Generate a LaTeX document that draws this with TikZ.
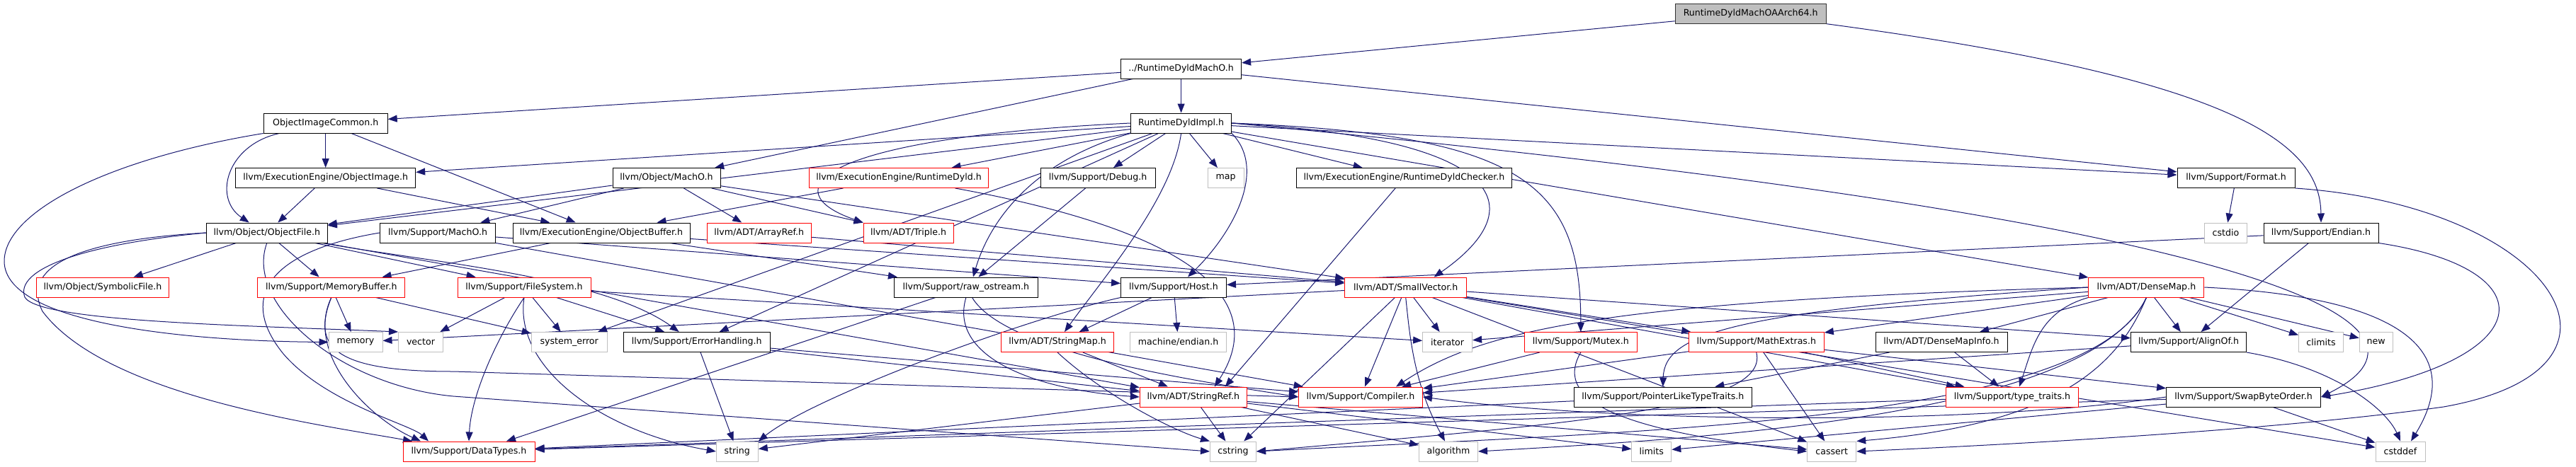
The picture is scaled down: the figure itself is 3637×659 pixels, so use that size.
\documentclass[tikz,border=0pt]{standalone}
\usepackage{fontspec}
\setmainfont{DejaVu Sans}
\usetikzlibrary{arrows.meta,backgrounds}
\definecolor{incblue}{HTML}{191970}
\definecolor{grey75}{HTML}{BFBFBF}
\begin{document}
\begin{tikzpicture}[x=1pt,y=-1pt,
	hdr/.style={draw=black,fill=white,line width=1pt,minimum height=28pt,inner xsep=3pt,inner ysep=0pt,font=\fontsize{12.6}{14}\selectfont},
	cuthdr/.style={hdr,draw=red},
	syshdr/.style={hdr,draw=grey75},
	roothdr/.style={hdr,fill=grey75,draw=black!80},
	inc/.style={draw=incblue,line width=1pt,-{Triangle[length=13pt,width=10pt]}}]
				%\draw[color=gray,step=50pt,help lines,opacity=0.3] (0,0) grid (3637,659); %help grid
				\useasboundingbox (0,0) rectangle (3637,659);
				% row 0 to 2
				\node[roothdr,minimum width=213pt] (root) at (2471.7,19.5) {RuntimeDyldMachOAArch64.h};
				\node[hdr,minimum width=170pt] (dyldmacho) at (1667.6,97) {../RuntimeDyldMachO.h};
				\node[hdr,minimum width=175pt] (imgcommon) at (459.7,174) {ObjectImageCommon.h};
				\node[hdr,minimum width=142pt] (dyldimpl) at (1667.6,174) {RuntimeDyldImpl.h};
				% row 3
				\node[hdr,minimum width=254pt] (objimage) at (459.7,251.5) {llvm/ExecutionEngine/ObjectImage.h};
				\node[hdr,minimum width=152pt] (objmacho) at (941,251.5) {llvm/Object/MachO.h};
				\node[cuthdr,minimum width=253pt] (rtdyld) at (1269,251.5) {llvm/ExecutionEngine/RuntimeDyld.h};
				\node[hdr,minimum width=162pt] (debug) at (1550,251.5) {llvm/Support/Debug.h};
				\node[syshdr,minimum width=51pt] (map) at (1730.7,251.5) {map};
				\node[hdr,minimum width=304pt] (checker) at (1982.5,251.5) {llvm/ExecutionEngine/RuntimeDyldChecker.h};
				\node[hdr,minimum width=166pt] (format) at (3157,251.5) {llvm/Support/Format.h};
				% row 4
				\node[hdr,minimum width=171pt] (objfile) at (376.8,329) {llvm/Object/ObjectFile.h};
				\node[hdr,minimum width=163pt] (supmacho) at (618,329) {llvm/Support/MachO.h};
				\node[hdr,minimum width=250pt] (objbuffer) at (849,329) {llvm/ExecutionEngine/ObjectBuffer.h};
				\node[cuthdr,minimum width=147pt] (arrayref) at (1071.7,329) {llvm/ADT/ArrayRef.h};
				\node[cuthdr,minimum width=127pt] (triple) at (1282.6,329) {llvm/ADT/Triple.h};
				\node[syshdr,minimum width=60pt] (cstdio) at (3142.5,329) {cstdio};
				\node[hdr,minimum width=162pt] (endian) at (3277,329) {llvm/Support/Endian.h};
				% row 5
				\node[cuthdr,minimum width=187pt] (symfile) at (145,406) {llvm/Object/SymbolicFile.h};
				\node[cuthdr,minimum width=208pt] (membuf) at (467.8,406) {llvm/Support/MemoryBuffer.h};
				\node[cuthdr,minimum width=188pt] (filesys) at (740,406) {llvm/Support/FileSystem.h};
				\node[hdr,minimum width=203pt] (rawos) at (1363.9,406) {llvm/Support/raw\_ostream.h};
				\node[hdr,minimum width=149pt] (host) at (1657,406) {llvm/Support/Host.h};
				\node[cuthdr,minimum width=172pt] (smallvec) at (1984.7,406) {llvm/ADT/SmallVector.h};
				\node[cuthdr,minimum width=163pt] (densemap) at (3030.4,406) {llvm/ADT/DenseMap.h};
				% row 6
				\node[syshdr,minimum width=76pt] (memory) at (502,483.5) {memory};
				\node[syshdr,minimum width=63pt] (vector) at (594,483.5) {vector};
				\node[syshdr,minimum width=107pt] (syserr) at (803.7,483.5) {system\_error};
				\node[hdr,minimum width=207pt] (errhand) at (983.7,483.5) {llvm/Support/ErrorHandling.h};
				\node[cuthdr,minimum width=159pt] (strmap) at (1493,483.5) {llvm/ADT/StringMap.h};
				\node[syshdr,minimum width=136pt] (mendian) at (1663.6,483.5) {machine/endian.h};
				\node[syshdr,minimum width=70pt] (iterator) at (2043.6,483.5) {iterator};
				\node[cuthdr,minimum width=159pt] (mutex) at (2231.8,483.5) {llvm/Support/Mutex.h};
				\node[cuthdr,minimum width=191pt] (mathext) at (2479.8,483.5) {llvm/Support/MathExtras.h};
				\node[hdr,minimum width=186pt] (dmapinfo) at (2741,483.5) {llvm/ADT/DenseMapInfo.h};
				\node[hdr,minimum width=163pt] (alignof) at (3090,483.5) {llvm/Support/AlignOf.h};
				\node[syshdr,minimum width=63pt] (climits) at (3277,483.5) {climits};
				\node[syshdr,minimum width=47pt] (newhdr) at (3354.7,483.5) {new};
				% row 7
				\node[cuthdr,minimum width=151pt] (strref) at (1684.8,561) {llvm/ADT/StringRef.h};
				\node[cuthdr,minimum width=175pt] (compiler) at (1921,561) {llvm/Support/Compiler.h};
				\node[hdr,minimum width=251pt] (ptrtraits) at (2347.8,561) {llvm/Support/PointerLikeTypeTraits.h};
				\node[cuthdr,minimum width=187pt] (typetraits) at (2841,561) {llvm/Support/type\_traits.h};
				\node[hdr,minimum width=218pt] (swapbo) at (3167.6,561) {llvm/Support/SwapByteOrder.h};
				% row 8
				\node[cuthdr,minimum width=186pt] (datatypes) at (662,638) {llvm/Support/DataTypes.h};
				\node[syshdr,minimum width=59pt] (string) at (1040.8,638) {string};
				\node[syshdr,minimum width=65pt] (cstring) at (1741,638) {cstring};
				\node[syshdr,minimum width=83pt] (algorithm) at (2045,638) {algorithm};
				\node[syshdr,minimum width=56pt] (limits) at (2331.8,638) {limits};
				\node[syshdr,minimum width=69pt] (cassert) at (2586.2,638) {cassert};
				\node[syshdr,minimum width=70pt] (cstddef) at (3389,638) {cstddef};

				\begin{scope}[on background layer]
				\draw[inc] (root) -- (dyldmacho);
				\draw[inc] (root) .. controls (3150,110) and (3276,200) .. (endian.north);
				\draw[inc] (dyldmacho) -- (imgcommon);
				\draw[inc] (dyldmacho) -- (dyldimpl);
				\draw[inc] (dyldmacho) -- (objmacho);
				\draw[inc] (dyldmacho) -- (format);
				% ObjectImageCommon.h
				\draw[inc] (imgcommon) -- (objimage);
				\draw[inc] (imgcommon) .. controls (320,205) and (300,280) .. ([xshift=-25pt]objfile.north);
				\draw[inc] (imgcommon) -- (objbuffer);
				\draw[inc] (imgcommon.south west) .. controls (150,225) and (5,300) .. (6,370) .. controls (8,455) and (250,482) .. (memory.west);
				% RuntimeDyldImpl.h
				\draw[inc] (dyldimpl) -- (objimage);
				\draw[inc] (dyldimpl) -- (objfile);
				\draw[inc] (dyldimpl) -- (rtdyld);
				\draw[inc] (dyldimpl) -- (debug);
				\draw[inc] (dyldimpl) -- (map);
				\draw[inc] (dyldimpl) -- (checker);
				\draw[inc] (dyldimpl) -- (format);
				\draw[inc] (dyldimpl) -- (densemap);
				\draw[inc] (dyldimpl.west) .. controls (1150,195) and (1090,270) .. (triple.north west);
				\draw[inc] (dyldimpl.south) .. controls (1655,280) and (1560,390) .. ([xshift=10pt]strmap.north);
				\draw[inc] (dyldimpl) -- (errhand);
				\draw[inc] (dyldimpl) -- (syserr);
				\draw[inc] (dyldimpl.south west) .. controls (1450,230) and (1395,320) .. ([xshift=10pt]rawos.north);
				\draw[inc] (dyldimpl.south east) .. controls (1790,240) and (1740,330) .. ([xshift=20pt]host.north);
				\draw[inc] (dyldimpl.east) .. controls (2120,195) and (2170,290) .. ([xshift=40pt]smallvec.north);
				\draw[inc] (dyldimpl.east) .. controls (2150,190) and (2232,260) .. (mutex.north);
				\draw[inc] (dyldimpl.east) .. controls (3300,320) and (3460,470) .. (swapbo.east);
				% ObjectImage.h, MachO.h
				\draw[inc] (objimage) -- (objfile);
				\draw[inc] (objimage) -- (objbuffer);
				\draw[inc] (objmacho) -- (supmacho);
				\draw[inc] (objmacho) -- (arrayref);
				\draw[inc] (objmacho) -- (triple);
				\draw[inc] (objmacho) -- (objfile);
				\draw[inc] (objmacho) -- (smallvec);
				% ObjectFile.h
				\draw[inc] (objfile) -- (symfile);
				\draw[inc] (objfile) -- (membuf);
				\draw[inc] (objfile) -- (filesys);
				\draw[inc] (objfile) .. controls (600,370) and (850,390) .. ([xshift=-25pt]errhand.north);
				\draw[inc] (objfile) -- (strref);
				\draw[inc] (objfile.west) .. controls (120,345) and (20,380) .. (35,420) .. controls (55,455) and (350,460) .. (vector.north west);
				\draw[inc] (objfile.west) .. controls (100,340) and (30,380) .. (60,440) .. controls (150,560) and (450,600) .. ([xshift=-80pt]datatypes.north);
				\draw[inc] (objfile.south) .. controls (345,430) and (480,545) .. (640,560) -- (cstring.west);
				% Support/MachO.h, ObjectBuffer.h
				\draw[inc] (supmacho) -- (compiler);
				\draw[inc] (supmacho) -- (host);
				\draw[inc] (supmacho.west) .. controls (380,355) and (335,420) .. (400,500) .. controls (460,570) and (580,600) .. ([xshift=-57pt]datatypes.north);
				\draw[inc] (objbuffer) -- (membuf);
				\draw[inc] (objbuffer) -- (smallvec);
				\draw[inc] (objbuffer) -- (rawos);
				\draw[inc] (arrayref) -- (smallvec);
				\draw[inc] (rtdyld) -- (objbuffer);
				\draw[inc] (rtdyld) .. controls (1700,330) and (1790,430) .. ([xshift=30pt]strref.north);
				\draw[inc] (debug) -- (rawos);
				\draw[inc] (checker) -- ([xshift=45pt]strref.north);
				% MemoryBuffer.h, FileSystem.h
				\draw[inc] (membuf) -- (memory);
				\draw[inc] (membuf) -- (syserr);
				\draw[inc] (membuf.south) .. controls (430,500) and (520,590) .. ([xshift=-68pt]datatypes.north);
				\draw[inc] (membuf.south) .. controls (440,490) and (470,525) .. (640,525) -- (compiler.west);
				\draw[inc] (filesys) -- (vector);
				\draw[inc] (filesys) -- (syserr);
				\draw[inc] (filesys) -- (errhand);
				\draw[inc] (filesys) -- (iterator);
				\draw[inc] (filesys.south) .. controls (700,480) and (665,560) .. (datatypes.north);
				\draw[inc] (filesys.south) .. controls (725,520) and (850,610) .. (string.west);
				% ErrorHandling.h, raw_ostream.h, Host.h
				\draw[inc] (errhand) -- (string);
				\draw[inc] (errhand) -- (compiler);
				\draw[inc] (errhand) -- (strref);
				\draw[inc] (rawos) -- ([xshift=53pt]datatypes.north);
				\draw[inc] (rawos.south) .. controls (1340,500) and (1450,550) .. (strref.west);
				\draw[inc] (rawos) .. controls (1420,500) and (1700,540) .. (compiler.west);
				\draw[inc] (host) -- (strmap);
				\draw[inc] (host) -- (mendian);
				\draw[inc] (host.south west) .. controls (1450,450) and (1150,560) .. (string.north east);
				\draw[inc] (strmap) -- (strref);
				\draw[inc] (strmap.south) .. controls (1560,560) and (1660,610) .. (cstring.north west);
				% StringRef.h
				\draw[inc] (strref) -- (string);
				\draw[inc] (strref) -- (cstring);
				\draw[inc] (strref) -- (algorithm);
				\draw[inc] (strref) -- (limits);
				\draw[inc] (strref) -- (cassert);
				% SmallVector.h
				\draw[inc] (smallvec) -- (iterator);
				\draw[inc] (smallvec) -- (compiler);
				\draw[inc] (smallvec.south) .. controls (1990,470) and (1995,540) .. ([xshift=-5pt]algorithm.north);
				\draw[inc] (smallvec) -- (cstring);
				\draw[inc] (smallvec) -- (cassert);
				\draw[inc] (smallvec) -- (alignof);
				\draw[inc] (smallvec) -- (mathext);
				\draw[inc] (smallvec) -- (typetraits);
				\draw[inc] (smallvec) -- (cstddef);
				\draw[inc] (smallvec) -- (memory);
				% DenseMap.h
				\draw[inc] (densemap) -- (dmapinfo);
				\draw[inc] (densemap) -- (alignof);
				\draw[inc] (densemap) -- (climits);
				\draw[inc] (densemap) -- (newhdr);
				\draw[inc] (densemap) -- (mathext);
				\draw[inc] (densemap) -- (iterator);
				\draw[inc] (densemap.west) .. controls (2300,425) and (2100,460) .. ([xshift=50pt]compiler.north);
				\draw[inc] (densemap.west) .. controls (2450,440) and (2350,470) .. (ptrtraits.north);
				\draw[inc] (densemap.south west) .. controls (2880,440) and (2870,490) .. ([xshift=10pt]typetraits.north);
				\draw[inc] (densemap.south) .. controls (2990,520) and (2900,600) .. (cassert.north east);
				\draw[inc] (densemap.east) .. controls (3400,420) and (3480,500) .. ([xshift=15pt]cstddef.north);
				\draw[inc] (densemap.south) .. controls (2950,600) and (2300,610) .. (cstring.east);
				\draw[inc] (densemap.south) .. controls (2950,590) and (2400,620) .. (algorithm.east);
				% Mutex.h, MathExtras.h, DenseMapInfo.h, AlignOf.h
				\draw[inc] (mutex) -- (compiler);
				\draw[inc] (mutex.south) .. controls (2190,570) and (2300,610) .. (cassert.west);
				\draw[inc] (mathext) -- (compiler);
				\draw[inc] (mathext) -- (swapbo);
				\draw[inc] (mathext) -- (typetraits);
				\draw[inc] (mathext) -- (cassert);
				\draw[inc] (mathext.south) .. controls (2500,580) and (2200,600) .. (cstring.east);
				\draw[inc] (dmapinfo) -- (ptrtraits);
				\draw[inc] (dmapinfo) -- (typetraits);
				\draw[inc] (alignof) -- (compiler);
				\draw[inc] (alignof.south east) .. controls (3300,520) and (3370,580) .. (cstddef.north);
				% leaves into DataTypes.h
				\draw[inc] (ptrtraits) -- (datatypes);
				\draw[inc] (typetraits) -- (datatypes);
				% SwapByteOrder.h, Endian.h, Format.h
				\draw[inc] (swapbo.west) .. controls (2800,600) and (2300,600) .. (compiler.east);
				\draw[inc] (swapbo) -- (datatypes);
				\draw[inc] (swapbo) -- (cstddef);
				\draw[inc] (swapbo) -- (limits);
				\draw[inc] (endian) -- (alignof);
				\draw[inc] (endian) -- (host);
				\draw[inc] (endian.south east) .. controls (3600,380) and (3590,510) .. (swapbo.east);
				\draw[inc] (format) -- (cstdio);
				\draw[inc] (format.south east) .. controls (3600,290) and (3760,520) .. (3450,575) .. controls (3200,610) and (2800,630) .. (cassert.east);
				\end{scope}
\end{tikzpicture}
\end{document}
